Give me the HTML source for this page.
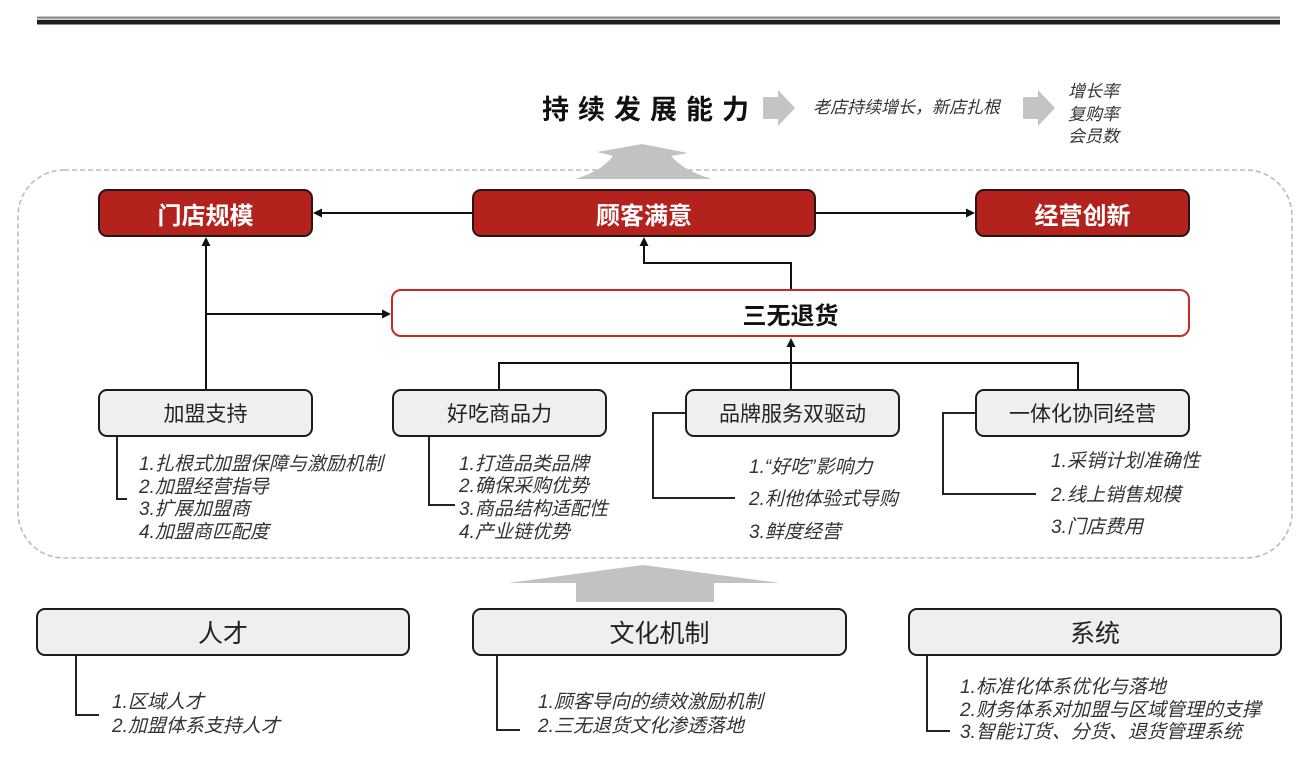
<!DOCTYPE html>
<html>
<head>
<meta charset="utf-8">
<style>
  html,body{margin:0;padding:0;background:#fff;}
  #c{position:relative;width:1308px;height:768px;overflow:hidden;background:#fff;
     font-family:"Liberation Sans","Noto Sans CJK SC",sans-serif;}
  svg{position:absolute;left:0;top:0;}
  .box{position:absolute;box-sizing:border-box;display:flex;align-items:center;justify-content:center;white-space:nowrap;}
  .red{background:#b3221c;border:2px solid #2b1414;border-radius:9px;color:#fff;font-weight:bold;font-size:24px;}
  .gray{background:#efefef;border:2px solid #1c1c1c;border-radius:9px;color:#222;font-size:21px;}
  .big{font-size:25px;}
  .t{position:absolute;line-height:24px;white-space:nowrap;font-style:italic;color:#333;font-size:19px;}
  .s{font-size:17px;line-height:22px;}
</style>
</head>
<body>
<div id="c">
<svg width="1308" height="768" viewBox="0 0 1308 768">
  <!-- top rule -->
  <rect x="37" y="16.5" width="1243" height="2" fill="#8a8a8a"/>
  <rect x="37" y="18.5" width="1243" height="1.5" fill="#cfcfcf"/>
  <rect x="37" y="20" width="1243" height="4.5" fill="#1e1e1e"/>

  <!-- dashed container -->
  <rect x="18" y="170" width="1274" height="388" rx="46" ry="46" fill="none" stroke="#bcbcbc" stroke-width="1.6" stroke-dasharray="5 3"/>

  <!-- top pagoda arrow -->
  <path d="M642,144 L597,152 L613,156 Q602,171 575,179 L712,179 Q684,171 671,156 L688,153 Z" fill="#c2c2c2"/>
  <!-- bottom arrow -->
  <path d="M643,565 L508,583 L576,583 L576,602 L714,602 L714,583 L780,583 Z" fill="#c2c2c2"/>

  <!-- small right arrows top -->
  <path d="M763,97 L778,97 L778,90 L795,108 L778,126 L778,119 L763,119 Z" fill="#c4c4c4"/>
  <path d="M1023,97 L1038,97 L1038,90 L1055,108 L1038,126 L1038,119 L1023,119 Z" fill="#c4c4c4"/>

  <g stroke="#111" stroke-width="2" fill="none">
    <!-- 顾客满意 -> 门店规模 -->
    <path d="M472,213 L321,213"/>
    <!-- 顾客满意 -> 经营创新 -->
    <path d="M816,213 L967,213"/>
    <!-- 三无退货 -> 顾客满意 -->
    <path d="M791,289 L791,263 L644,263 L644,245"/>
    <!-- 加盟支持 -> 门店规模 -->
    <path d="M206,389 L206,245"/>
    <!-- branch to 三无退货 -->
    <path d="M206,314 L383,314"/>
    <!-- bottom group -->
    <path d="M499,389 L499,363 L1078,363 L1078,389"/>
    <path d="M791,389 L791,346"/>
  </g>
  <g fill="#111">
    <polygon points="313,213 322,208.5 322,217.5"/>
    <polygon points="975,213 966,208.5 966,217.5"/>
    <polygon points="644,237 639.5,246 648.5,246"/>
    <polygon points="206,237 201.5,246 210.5,246"/>
    <polygon points="391,314 382,309.5 382,318.5"/>
    <polygon points="791,338 786.5,347 795.5,347"/>
  </g>

  <!-- brackets -->
  <g stroke="#222" stroke-width="2" fill="none">
    <path d="M117,437 L117,499 L127,499"/>
    <path d="M429,437 L429,505 L455,505"/>
    <path d="M686,413 L653,413 L653,498 L735,498"/>
    <path d="M976,413 L943,413 L943,494 L1036,494"/>
    <path d="M76,656 L76,715 L99,715"/>
    <path d="M497,656 L497,730 L520,730"/>
    <path d="M927,656 L927,731 L950,731"/>
  </g>
</svg>

<!-- title row -->
<div style="position:absolute;left:542px;top:94px;font-size:27px;font-weight:bold;letter-spacing:9px;line-height:32px;color:#111;white-space:nowrap;">持续发展能力</div>
<div class="t s" style="left:813px;top:97px;color:#333;">老店持续增长，新店扎根</div>
<div class="t s" style="left:1068px;top:81px;">增长率</div>
<div class="t s" style="left:1068px;top:104px;">复购率</div>
<div class="t s" style="left:1068px;top:126px;">会员数</div>

<!-- red boxes -->
<div class="box red" style="left:98px;top:189px;width:215px;height:48px;">门店规模</div>
<div class="box red" style="left:472px;top:189px;width:344px;height:48px;">顾客满意</div>
<div class="box red" style="left:975px;top:189px;width:215px;height:48px;">经营创新</div>

<!-- 三无退货 -->
<div class="box" style="left:391px;top:289px;width:799px;height:48px;border:2.5px solid #c62a26;border-radius:10px;background:#fff;font-size:24px;font-weight:bold;color:#111;">三无退货</div>

<!-- gray middle boxes -->
<div class="box gray" style="left:98px;top:389px;width:215px;height:48px;">加盟支持</div>
<div class="box gray" style="left:392px;top:389px;width:215px;height:48px;">好吃商品力</div>
<div class="box gray" style="left:685px;top:389px;width:215px;height:48px;">品牌服务双驱动</div>
<div class="box gray" style="left:975px;top:389px;width:215px;height:48px;">一体化协同经营</div>

<!-- lists middle -->
<div class="t" style="left:139px;top:453px;">1.扎根式加盟保障与激励机制</div>
<div class="t" style="left:139px;top:476px;">2.加盟经营指导</div>
<div class="t" style="left:139px;top:498px;">3.扩展加盟商</div>
<div class="t" style="left:139px;top:521px;">4.加盟商匹配度</div>

<div class="t" style="left:459px;top:453px;">1.打造品类品牌</div>
<div class="t" style="left:459px;top:475px;">2.确保采购优势</div>
<div class="t" style="left:459px;top:498px;">3.商品结构适配性</div>
<div class="t" style="left:459px;top:521px;">4.产业链优势</div>

<div class="t" style="left:749px;top:456px;">1.“好吃”影响力</div>
<div class="t" style="left:749px;top:488px;">2.利他体验式导购</div>
<div class="t" style="left:749px;top:521px;">3.鲜度经营</div>

<div class="t" style="left:1051px;top:450px;">1.采销计划准确性</div>
<div class="t" style="left:1051px;top:484px;">2.线上销售规模</div>
<div class="t" style="left:1051px;top:516px;">3.门店费用</div>

<!-- bottom boxes -->
<div class="box gray big" style="left:36px;top:608px;width:374px;height:48px;">人才</div>
<div class="box gray big" style="left:472px;top:608px;width:375px;height:48px;">文化机制</div>
<div class="box gray big" style="left:908px;top:608px;width:374px;height:48px;">系统</div>

<div class="t" style="left:112px;top:691px;">1.区域人才</div>
<div class="t" style="left:112px;top:715px;">2.加盟体系支持人才</div>

<div class="t" style="left:538px;top:691px;">1.顾客导向的绩效激励机制</div>
<div class="t" style="left:538px;top:715px;">2.三无退货文化渗透落地</div>

<div class="t" style="left:960px;top:676px;">1.标准化体系优化与落地</div>
<div class="t" style="left:960px;top:699px;">2.财务体系对加盟与区域管理的支撑</div>
<div class="t" style="left:960px;top:721px;">3.智能订货、分货、退货管理系统</div>
</div>
</body>
</html>
